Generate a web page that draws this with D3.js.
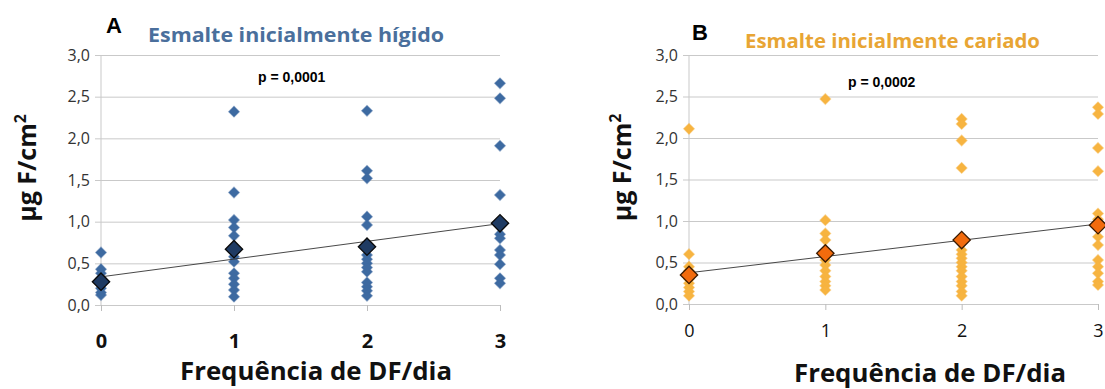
<!DOCTYPE html>
<html>
<head>
<meta charset="utf-8">
<style>
    body { margin: 0; background: #fff; }
    svg { display: block; }
    .grid line { stroke: #c9c9c9; stroke-width: 1; }
    .tick-y text { font-family: 'Open Sans', sans-serif; font-size: 16px; fill: #333; }
    .panel-letter { font-family: Arial, 'Liberation Sans', sans-serif; font-weight: bold; font-size: 22px; }
    .title { font-family: 'Open Sans', sans-serif; font-weight: bold; font-size: 19px; }
    .ytitle, .xtitle { font-family: 'Open Sans', sans-serif; font-weight: bold; fill: #111; }
    .ytitle { font-size: 25px; }
    .xtitle { font-size: 25px; }
    .pval { font-family: Arial, 'Liberation Sans', sans-serif; font-weight: bold; font-size: 14px; }
</style>
</head>
<body>
<svg width="1105" height="389"></svg>
<script src="https://d3js.org/d3.v7.min.js"></script>
<script>
// frequency categories (x) and y tick values
const freqs = [0, 1, 2, 3]
const yTicks = [0, 0.5, 1.0, 1.5, 2.0, 2.5, 3.0]

// Esmalte inicialmente hígido: individual values per frequency
const higido0 = [0.63, 0.43, 0.38, 0.32, 0.25, 0.20, 0.15, 0.12]
const higido1 = [2.32, 1.35, 1.02, 0.93, 0.83, 0.58, 0.52, 0.38, 0.32, 0.25, 0.18, 0.10]
const higido2 = [2.33, 1.61, 1.52, 1.06, 0.96, 0.60, 0.55, 0.50, 0.45, 0.40, 0.27, 0.22, 0.17, 0.11]
const higido3 = [2.66, 2.48, 1.91, 1.32, 0.85, 0.80, 0.66, 0.60, 0.49, 0.32, 0.26]
const higidoMeans = [0.28, 0.67, 0.70, 0.98]

// Esmalte inicialmente cariado
const cariado0 = [2.11, 0.60, 0.45, 0.40, 0.30, 0.25, 0.20, 0.15, 0.10]
const cariado1 = [2.47, 1.01, 0.85, 0.77, 0.53, 0.47, 0.40, 0.33, 0.27, 0.22, 0.17]
const cariado2 = [2.23, 2.17, 1.97, 1.64, 0.65, 0.60, 0.55, 0.50, 0.45, 0.40, 0.33, 0.27, 0.22, 0.15, 0.10]
const cariado3 = [2.37, 2.29, 1.88, 1.60, 1.09, 1.02, 0.81, 0.71, 0.53, 0.45, 0.37, 0.27, 0.23]
const cariadoMeans = [0.35, 0.61, 0.77, 0.95]

const panels = [
    {
        letter: "A", title: "Esmalte inicialmente hígido", p: "p = 0,0001",
        groups: [higido0, higido1, higido2, higido3], means: higidoMeans,
        left: 101, right: 500, top: 55, bottom: 305,
        pointColor: "#3d6aa1", meanColor: "#1f3b63", meanStroke: "#0a0a0a", titleColor: "#4a6f9c",
        boldTicks: true,
        letterPos: [106, 33], titlePos: [148, 42], titleLen: 296, pPos: [258, 82],
        yTitleX: 36, xTitleX: 316, xTitleY: 380, xTickY: 348
    },
    {
        letter: "B", title: "Esmalte inicialmente cariado", p: "p = 0,0002",
        groups: [cariado0, cariado1, cariado2, cariado3], means: cariadoMeans,
        left: 689, right: 1098, top: 55, bottom: 304,
        pointColor: "#f7b440", meanColor: "#f26b0d", meanStroke: "#3a1a00", titleColor: "#e8a534",
        boldTicks: false,
        letterPos: [692, 40], titlePos: [745, 48], titleLen: 295, pPos: [848, 87],
        yTitleX: 631, xTitleX: 930, xTitleY: 382, xTickY: 337
    }
]

const svg = d3.select("svg")

function drawPanel(cfg) {
    let g = svg.append("g")

    let x = d3.scaleLinear().domain([0, 3]).range([cfg.left, cfg.right])
    let y = d3.scaleLinear().domain([0, 3]).range([cfg.bottom, cfg.top])

    // horizontal gridlines with y labels
    let yAxis = d3.axisLeft(y)
        .tickValues(yTicks)
        .tickSize(-(cfg.right - cfg.left) - 6)
        .tickPadding(6)
        .tickFormat(d => d3.format(".1f")(d).replace(".", ","))
    g.append("g")
        .attr("class", "grid tick-y")
        .attr("transform", `translate(${cfg.left - 6},0)`)
        .call(yAxis)
        .call(a => a.select(".domain").remove())
        .call(a => a.selectAll(".tick text").attr("x", -5))

    // vertical axis line at x = 0
    g.append("line")
        .attr("x1", x(0)).attr("x2", x(0))
        .attr("y1", y(3)).attr("y2", y(0))
        .attr("stroke", "#c9c9c9")

    // x axis ticks and labels
    let xAxis = d3.axisBottom(x)
        .tickValues(freqs)
        .tickSize(6)
        .tickFormat(d3.format("d"))
    g.append("g")
        .attr("transform", `translate(0,${cfg.bottom})`)
        .call(xAxis)
        .call(a => a.select(".domain").remove())
        .call(a => a.selectAll(".tick line").attr("stroke", "#bdbdbd"))
        .call(a => a.selectAll(".tick text")
            .attr("y", cfg.xTickY - cfg.bottom).attr("dy", null)
            .style("font-family", "'Open Sans', sans-serif")
            .style("font-size", cfg.boldTicks ? "20px" : "18px")
            .style("font-weight", cfg.boldTicks ? "bold" : "normal")
            .style("fill", "#111"))

    // individual points
    let pts = []
    cfg.groups.forEach((vals, i) => vals.forEach(v => pts.push({ f: freqs[i], v: v })))

    let small = d3.symbol().type(d3.symbolSquare).size(56)
    g.append("g")
        .selectAll("path")
        .data(pts)
        .join("path")
        .attr("d", small)
        .attr("transform", d => `translate(${x(d.f)},${y(d.v)}) rotate(45)`)
        .attr("fill", cfg.pointColor)
        .attr("stroke", cfg.pointColor)
        .attr("stroke-opacity", 0.5)
        .attr("stroke-width", 1.2)

    // linear trend line through the means
    let mx = d3.mean(freqs), my = d3.mean(cfg.means)
    let sxy = d3.sum(freqs, (f, i) => (f - mx) * (cfg.means[i] - my))
    let sxx = d3.sum(freqs, f => (f - mx) * (f - mx))
    let slope = sxy / sxx, icpt = my - slope * mx
    g.append("line")
        .attr("x1", x(0)).attr("y1", y(icpt))
        .attr("x2", x(3)).attr("y2", y(icpt + slope * 3))
        .attr("stroke", "#333")
        .attr("stroke-width", 0.9)

    // mean markers
    let big = d3.symbol().type(d3.symbolSquare).size(150)
    g.append("g")
        .selectAll("path")
        .data(cfg.means)
        .join("path")
        .attr("d", big)
        .attr("transform", (d, i) => `translate(${x(freqs[i])},${y(d)}) rotate(45)`)
        .attr("fill", cfg.meanColor)
        .attr("stroke", cfg.meanStroke)
        .attr("stroke-width", 1.3)

    // texts
    g.append("text").attr("class", "panel-letter")
        .attr("x", cfg.letterPos[0]).attr("y", cfg.letterPos[1]).text(cfg.letter)
    g.append("text").attr("class", "title")
        .attr("x", cfg.titlePos[0]).attr("y", cfg.titlePos[1])
        .attr("textLength", cfg.titleLen).attr("lengthAdjust", "spacingAndGlyphs")
        .style("fill", cfg.titleColor).text(cfg.title)
    g.append("text").attr("class", "pval")
        .attr("x", cfg.pPos[0]).attr("y", cfg.pPos[1]).text(cfg.p)

    let yt = g.append("text").attr("class", "ytitle")
        .attr("transform", `translate(${cfg.yTitleX},${(cfg.top + cfg.bottom) / 2 - 12}) rotate(-90)`)
        .attr("text-anchor", "middle")
    yt.append("tspan").text("μg F/cm")
    yt.append("tspan").attr("dy", -10).style("font-size", "16px").text("2")

    g.append("text").attr("class", "xtitle")
        .attr("x", cfg.xTitleX).attr("y", cfg.xTitleY)
        .attr("text-anchor", "middle")
        .attr("textLength", 272).attr("lengthAdjust", "spacingAndGlyphs")
        .text("Frequência de DF/dia")
}

panels.forEach(drawPanel)
</script>
</body>
</html>
